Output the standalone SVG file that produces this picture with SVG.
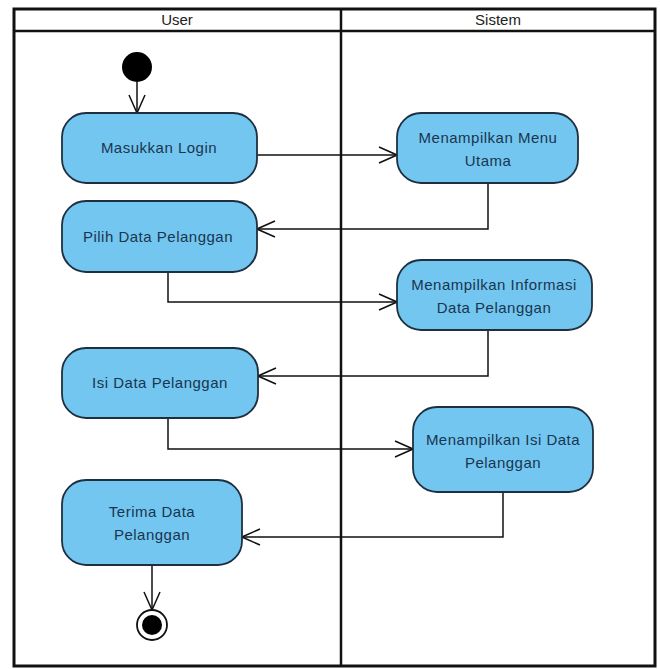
<svg xmlns="http://www.w3.org/2000/svg" width="660" height="669" viewBox="0 0 660 669">
<defs>
<style>
.frame{fill:none;stroke:#111;stroke-width:3}
.lane{fill:none;stroke:#111;stroke-width:2.5}
.hdr{font-family:"Liberation Sans",Arial,sans-serif;font-size:15px;fill:#222;text-anchor:middle}
.act{fill:#72C6EF;stroke:#1E3040;stroke-width:1.8}
.lbl{font-family:"Liberation Sans",Arial,sans-serif;font-size:15px;letter-spacing:0.5px;fill:#1A3550;text-anchor:middle}
.edge{fill:none;stroke:#111;stroke-width:1.5}
</style>
<marker id="arr" viewBox="0 0 20 20" refX="19" refY="10" markerWidth="20" markerHeight="20" markerUnits="userSpaceOnUse" orient="auto">
<path d="M1,2 L19,10 L1,18" fill="none" stroke="#111" stroke-width="1.5"/>
</marker>
</defs>
<rect width="660" height="669" fill="#fff"/>
<g id="swimlanes">
<rect class="frame" x="14" y="9" width="641" height="657"/>
<line class="lane" x1="14" y1="31" x2="655" y2="31"/>
<line class="lane" x1="341" y1="9" x2="341" y2="666"/>
<text class="hdr" x="177" y="25">User</text>
<text class="hdr" x="498" y="25">Sistem</text>
</g>
<g id="connectors">
<line class="edge" x1="137" y1="82" x2="137" y2="113" marker-end="url(#arr)"/>
<polyline class="edge" points="257,155 397,155" marker-end="url(#arr)"/>
<polyline class="edge" points="488,183 488,229 257,229" marker-end="url(#arr)"/>
<polyline class="edge" points="168,272 168,302 397,302" marker-end="url(#arr)"/>
<polyline class="edge" points="488,330 488,376 258,376" marker-end="url(#arr)"/>
<polyline class="edge" points="168,418 168,449 413,449" marker-end="url(#arr)"/>
<polyline class="edge" points="503,492 503,537 242,537" marker-end="url(#arr)"/>
<line class="edge" x1="152" y1="565" x2="152" y2="610" marker-end="url(#arr)"/>
</g>
<g id="start">
<circle cx="137" cy="67" r="15" fill="#000"/>
</g>
<g id="masukkan-login">
<rect class="act" x="62" y="113" width="195" height="70" rx="24"/>
<text class="lbl" x="159" y="153">Masukkan Login</text>
</g>
<g id="menampilkan-menu-utama">
<rect class="act" x="397" y="113" width="181" height="70" rx="24"/>
<text class="lbl" x="488" y="143">Menampilkan Menu</text>
<text class="lbl" x="488" y="166">Utama</text>
</g>
<g id="pilih-data-pelanggan">
<rect class="act" x="62" y="201" width="195" height="71" rx="24"/>
<text class="lbl" x="158" y="242">Pilih Data Pelanggan</text>
</g>
<g id="menampilkan-informasi">
<rect class="act" x="397" y="260" width="195" height="70" rx="24"/>
<text class="lbl" x="494" y="290">Menampilkan Informasi</text>
<text class="lbl" x="494" y="313">Data Pelanggan</text>
</g>
<g id="isi-data-pelanggan">
<rect class="act" x="62" y="348" width="196" height="70" rx="24"/>
<text class="lbl" x="160" y="388">Isi Data Pelanggan</text>
</g>
<g id="menampilkan-isi-data">
<rect class="act" x="413" y="407" width="180" height="85" rx="24"/>
<text class="lbl" x="503" y="445">Menampilkan Isi Data</text>
<text class="lbl" x="503" y="468">Pelanggan</text>
</g>
<g id="terima-data-pelanggan">
<rect class="act" x="62" y="480" width="180" height="85" rx="24"/>
<text class="lbl" x="152" y="517">Terima Data</text>
<text class="lbl" x="152" y="540">Pelanggan</text>
</g>
<g id="end">
<circle cx="152" cy="625" r="15" fill="#fff" stroke="#111" stroke-width="1.8"/>
<circle cx="152" cy="625" r="10" fill="#000"/>
</g>
</svg>
